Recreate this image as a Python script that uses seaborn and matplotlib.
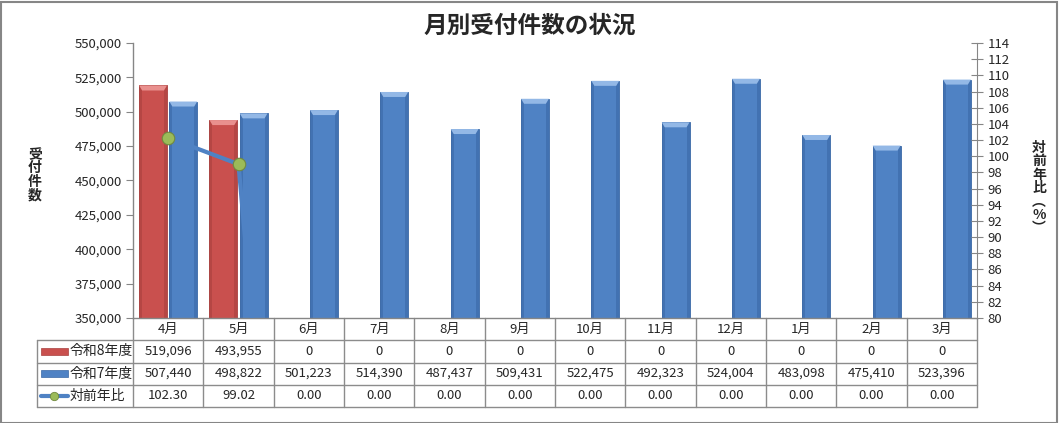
import numpy as np
import pandas as pd
import matplotlib
matplotlib.use("Agg")
import matplotlib.pyplot as plt
import seaborn as sns
from matplotlib.transforms import blended_transform_factory
from matplotlib.patches import Rectangle, Polygon
from matplotlib.lines import Line2D

months = ['4月', '5月', '6月', '7月', '8月', '9月', '10月', '11月', '12月', '1月', '2月', '3月']
r8 = [519096, 493955, 0, 0, 0, 0, 0, 0, 0, 0, 0, 0]
r7 = [507440, 498822, 501223, 514390, 487437, 509431, 522475, 492323, 524004, 483098, 475410, 523396]
ratio = [102.30, 99.02, 0.00, 0.00, 0.00, 0.00, 0.00, 0.00, 0.00, 0.00, 0.00, 0.00]
series = ['令和8年度', '令和7年度']
ratio_name = '対前年比'
title = '月別受付件数の状況'
ylabel_left = '受付件数'
ylabel_right = '対前年比︵%︶'

RED = '#C9504E'
BLUE = '#4F82C4'
GREEN = '#9BBB59'
GREY = '#868686'
LIGHT = {RED: '#E9908E', BLUE: '#93B8E6'}
DARK = {RED: '#A9403E', BLUE: '#3A68A6'}

sns.set_style('white')
plt.rcParams['font.family'] = ['Noto Sans CJK JP', 'DejaVu Sans']

df = pd.DataFrame({
    'month': months * 2,
    'series': [series[0]] * 12 + [series[1]] * 12,
    'value': r8 + r7,
})

W, H = 1059, 423
fig = plt.figure(figsize=(W / 100, H / 100), dpi=100)
L, R, T, B = 133, 977, 43, 318
ax = fig.add_axes([L / W, 1 - B / H, (R - L) / W, (B - T) / H])

sns.barplot(data=df, x='month', y='value', hue='series', hue_order=series,
            order=months, palette=[RED, BLUE], width=0.86, gap=0.08,
            ax=ax, legend=False, saturation=1)

ymin, ymax = 350000, 550000
ax.set_ylim(ymin, ymax)
ax.set_xlim(-0.5, len(months) - 0.5)

# bevel shading derived from each bar's own geometry
upp = (ymax - ymin) / (B - T)          # data units per pixel (y)
xpp = (len(months)) / (R - L)          # data units per pixel (x)
for p in list(ax.patches):
    top = p.get_height()
    if top <= ymin:
        continue
    fc = matplotlib.colors.to_hex(p.get_facecolor())
    base = RED if fc.upper() == RED.upper() else BLUE
    p.set_edgecolor(DARK[base])
    p.set_linewidth(0.6)
    x, w = p.get_x(), p.get_width()
    dx, dy = 3 * xpp, 5 * upp
    ax.add_patch(Rectangle((x, ymin), dx, top - ymin, facecolor=DARK[base], lw=0, alpha=0.6, zorder=p.get_zorder() + 0.1))
    ax.add_patch(Rectangle((x + w - dx, ymin), dx, top - ymin, facecolor=DARK[base], lw=0, alpha=0.6, zorder=p.get_zorder() + 0.1))
    ax.add_patch(Polygon([(x, top), (x + w, top), (x + w - dx, top - dy), (x + dx, top - dy)],
                         closed=True, facecolor=LIGHT[base], edgecolor='none', zorder=p.get_zorder() + 0.2))

ax.set_yticks(np.arange(ymin, ymax + 1, 25000))
ax.yaxis.set_major_formatter(matplotlib.ticker.FuncFormatter(lambda v, p: f'{int(v):,}'))
ax.tick_params(axis='y', direction='out', length=5, color=GREY, labelsize=9.5, pad=3)
ax.tick_params(axis='x', length=0, labelsize=9.5, pad=3.5)
ax.set_xlabel('')
ax.set_ylabel('')
for s in ['top', 'right']:
    ax.spines[s].set_visible(False)
for s in ['left', 'bottom']:
    ax.spines[s].set_color(GREY)
    ax.spines[s].set_linewidth(1)

ax2 = ax.twinx()
sns.lineplot(x=np.arange(len(months)), y=ratio, ax=ax2, color=BLUE, lw=3,
             marker='o', markersize=9, markerfacecolor=GREEN,
             markeredgecolor='#71893F', markeredgewidth=0.8)
ax2.set_ylim(80, 114)
ax2.set_yticks(np.arange(80, 115, 2))
ax2.tick_params(axis='y', direction='inout', length=9, color=GREY, labelsize=9.5, pad=3)
for s in ['top', 'left', 'bottom']:
    ax2.spines[s].set_visible(False)
ax2.spines['right'].set_color(GREY)
ax2.set_xlim(-0.5, len(months) - 0.5)

# data table
tr = blended_transform_factory(ax.transData, ax.transAxes)
cw = (R - L) / len(months)
h = 22.25 / (B - T)
xL = -0.5 - (L - 37) / cw
xr = len(months) - 0.5
lc = '#8C8C8C'
for k in range(1, 5):
    ax.add_line(Line2D([xL, xr], [-k * h, -k * h], transform=tr, color=lc, lw=1, clip_on=False))
for i in range(len(months) + 1):
    ax.add_line(Line2D([-0.5 + i, -0.5 + i], [0, -4 * h], transform=tr, color=lc, lw=1, clip_on=False))
ax.add_line(Line2D([xL, xL], [-h, -4 * h], transform=tr, color=lc, lw=1, clip_on=False))

rows = [[f'{v:,}' for v in r8], [f'{v:,}' for v in r7], [f'{v:.2f}' for v in ratio]]
for k, row in enumerate(rows):
    yc = -(k + 1.5) * h
    for i, t in enumerate(row):
        ax.text(i, yc, t, transform=tr, ha='center', va='center', fontsize=9.5, clip_on=False)
names = series + [ratio_name]
sw0 = xL + 4 / cw
sw1 = xL + 31 / cw
for k, name in enumerate(names):
    yc = -(k + 1.5) * h
    ax.text(xL + 33 / cw, yc, name, transform=tr, ha='left', va='center', fontsize=10, clip_on=False)
    if k < 2:
        col = [RED, BLUE][k]
        ax.add_patch(Rectangle((sw0, yc - 0.012), sw1 - sw0, 0.024, transform=tr,
                               facecolor=col, edgecolor=DARK[col], lw=0.5, clip_on=False))
    else:
        ax.add_line(Line2D([sw0, sw1], [yc, yc], transform=tr, color=BLUE, lw=3, clip_on=False))
        ax.add_line(Line2D([(sw0 + sw1) / 2], [yc], transform=tr, marker='o', markersize=6,
                           markerfacecolor=GREEN, markeredgecolor='#71893F', markeredgewidth=0.6,
                           clip_on=False))

fig.text(530 / W, 1 - 26 / H, title, ha='center', va='center', fontsize=17, fontweight='bold')
fig.text(35 / W, 1 - 175 / H, '\n'.join(ylabel_left), ha='center', va='center',
         fontsize=10, fontweight='bold', linespacing=0.95)
fig.text(1039 / W, 1 - 188 / H, '\n'.join(ylabel_right), ha='center', va='center',
         fontsize=10, fontweight='bold', linespacing=0.95)

fig.patches.append(Rectangle((0.5 / W, 0.5 / H), 1 - 3 / W, 1 - 3 / H, transform=fig.transFigure,
                             fill=False, edgecolor=GREY, lw=1.5))

fig.savefig('out.png', dpi=100)
